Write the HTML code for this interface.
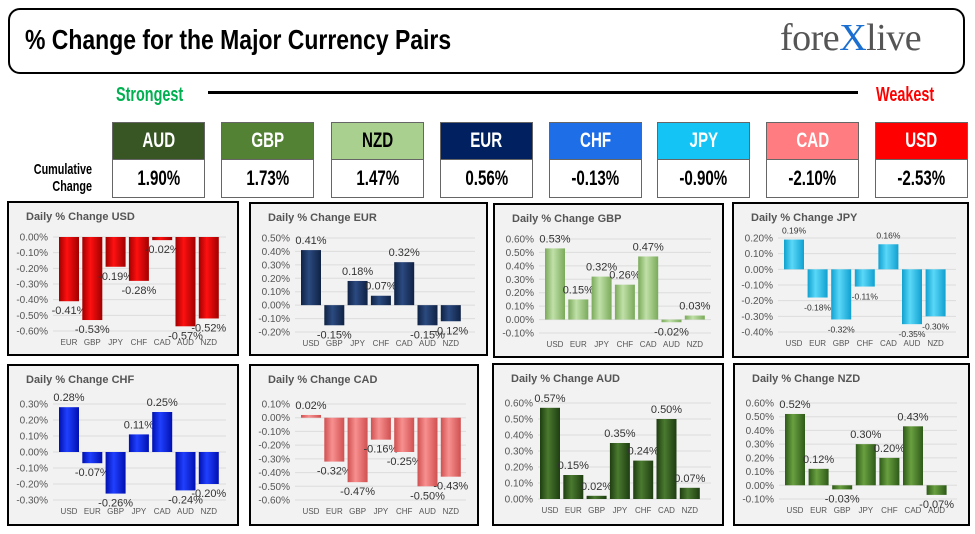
<!DOCTYPE html>
<html><head><meta charset="utf-8"><style>
body{margin:0;width:975px;height:534px;background:#fff;overflow:hidden;font-family:"Liberation Sans",sans-serif;position:relative}
.a{position:absolute}
.cond{font-weight:bold;transform-origin:left top;white-space:nowrap}
.box{position:absolute;width:93px;border:1px solid #666;box-sizing:border-box}
.hd{height:36px;color:#fff;text-align:center;font-weight:bold;font-size:21px;line-height:36px}
.vl{height:37px;background:#fff;text-align:center;font-weight:bold;font-size:21px;line-height:37px;color:#000;border-top:1px solid #666}
.sq{display:inline-block;transform:scaleX(0.72)}
</style></head><body>
<div class="a" style="left:8px;top:8px;width:957px;height:66px;border:2px solid #000;border-radius:12px;box-sizing:border-box"></div>
<div class="a cond" style="left:25px;top:24px;font-size:28px;transform:scaleX(0.82)">% Change for the Major Currency Pairs</div>
<div class="a" style="left:780px;top:16px;font-family:'Liberation Serif',serif;font-size:38px;color:#555;letter-spacing:-0.5px">fore<span style="color:#1a6fd0">X</span>live</div>
<div class="a cond" style="left:116px;top:84px;font-size:20px;color:#00b050;transform:scaleX(0.72)">Strongest</div>
<div class="a" style="left:208px;top:91px;width:650px;height:3px;background:#000"></div>
<div class="a cond" style="left:876px;top:84px;font-size:20px;color:#ff0000;transform:scaleX(0.72)">Weakest</div>
<div class="a cond" style="left:20px;top:161px;font-size:15px;line-height:17px;text-align:right;width:100px;transform:scaleX(0.72)">Cumulative<br>Change</div>
<div id="boxes"></div>
<svg id="s" class="a" style="left:0;top:0" width="975" height="534" font-family="Liberation Sans, sans-serif"></svg>
<script>
var bx=[["AUD","1.90%","#375623",112,"#fff"],["GBP","1.73%","#548235",221,"#fff"],["NZD","1.47%","#a9d08e",331,"#000"],["EUR","0.56%","#002060",440,"#fff"],["CHF","-0.13%","#1e6ee8",549,"#fff"],["JPY","-0.90%","#14c4f4",657,"#fff"],["CAD","-2.10%","#ff7c80",766,"#fff"],["USD","-2.53%","#ff0000",875,"#fff"]];
var h="";bx.forEach(function(b){h+='<div class="box" style="left:'+b[3]+'px;top:122px"><div class="hd" style="background:'+b[2]+';color:'+b[4]+'"><span class="sq">'+b[0]+'</span></div><div class="vl"><span class="sq">'+b[1]+'</span></div></div>';});
document.getElementById("boxes").innerHTML=h;
var P=[
["USD",8,202,230,153,0,-0.6,["EUR","GBP","JPY","CHF","CAD","AUD","NZD"],[-0.41,-0.53,-0.19,-0.28,-0.02,-0.57,-0.52],"#ff1010","#a00000"],
["EUR",250,203,237,152,0.5,-0.2,["USD","GBP","JPY","CHF","CAD","AUD","NZD"],[0.41,-0.15,0.18,0.07,0.32,-0.15,-0.12],"#2b4a80","#0f2244"],
["GBP",494,204,229,153,0.6,-0.1,["USD","EUR","JPY","CHF","CAD","AUD","NZD"],[0.53,0.15,0.32,0.26,0.47,-0.02,0.03],"#c0e0a8","#7aaa5a"],
["JPY",733,203,235,154,0.2,-0.4,["USD","EUR","GBP","CHF","CAD","AUD","NZD"],[0.19,-0.18,-0.32,-0.11,0.16,-0.35,-0.30],"#5ad8f8","#10a0d0"],
["CHF",8,365,230,160,0.3,-0.3,["USD","EUR","GBP","JPY","CAD","AUD","NZD"],[0.28,-0.07,-0.26,0.11,0.25,-0.24,-0.20],"#2040ff","#0010b0"],
["CAD",250,365,228,160,0.1,-0.6,["USD","EUR","GBP","JPY","CHF","AUD","NZD"],[0.02,-0.32,-0.47,-0.16,-0.25,-0.50,-0.43],"#f89090","#d05050"],
["AUD",493,364,230,161,0.6,0,["USD","EUR","GBP","JPY","CHF","CAD","NZD"],[0.57,0.15,0.02,0.35,0.24,0.50,0.07],"#4a7a30","#1e3d10"],
["NZD",734,364,235,161,0.6,-0.1,["USD","EUR","GBP","JPY","CHF","CAD","AUD"],[0.52,0.12,-0.03,0.30,0.20,0.43,-0.07],"#6aa040","#2e5a18"]];
var s="<defs>";P.forEach(function(p,i){s+='<linearGradient id="g'+i+'" x1="0" x2="1"><stop offset="0" stop-color="'+p[10]+'"/><stop offset="0.4" stop-color="'+p[9]+'"/><stop offset="1" stop-color="'+p[10]+'"/></linearGradient>';});s+="</defs>";
P.forEach(function(p,i){var x=p[1],y=p[2],w=p[3],hh=p[4],mx=p[5],mn=p[6];
var row2=y>300;var top=y+(row2?39:35),bot=y+(row2?135:129);
var fs=10;
s+='<rect x="'+x+'" y="'+y+'" width="'+w+'" height="'+hh+'" fill="#f2f2f2" stroke="#000" stroke-width="2"/>';
s+='<text x="'+(x+18)+'" y="'+(y+18)+'" font-size="11" font-weight="bold" fill="#555">Daily % Change '+p[0]+'</text>';
var n=Math.round((mx-mn)*10);function Y(v){return top+(mx-v)/(mx-mn)*(bot-top);}
for(var k=0;k<=n;k++){var v=mx-k*0.1;var yy=Y(v);s+='<line x1="'+(x+45)+'" x2="'+(x+w-12)+'" y1="'+yy+'" y2="'+yy+'" stroke="#dcdcdc"/>';
s+='<text x="'+(x+40)+'" y="'+(yy+3.5)+'" font-size="'+fs+'" fill="#555" text-anchor="end">'+(Math.abs(v)<1e-9?"0.00":v.toFixed(2))+'%</text>';}
var sl=(p[0]=="JPY"||p[0]=="NZD")?23.6:23.3,x0=x+(row2&&p[0]=="AUD"?47:51),z=Y(0);
p[8].forEach(function(v,j){var bx=x0+j*sl,y1=Y(v);var t=Math.min(z,y1),hb=Math.abs(y1-z);
s+='<rect x="'+bx+'" y="'+t+'" width="20" height="'+Math.max(hb,1.5)+'" fill="url(#g'+i+')"/>';
s+='<text x="'+(bx+10)+'" y="'+(bot+14)+'" font-size="8" fill="#555" text-anchor="middle">'+p[7][j]+'</text>';
var lv=(v<0?"-":"")+Math.abs(v).toFixed(2)+"%";var ly=v>=0?y1-6:y1+13;
s+='<text x="'+(bx+10)+'" y="'+ly+'" font-size="'+(p[0]=="JPY"?8.5:11)+'" fill="#333" text-anchor="middle">'+lv+'</text>';});
});
document.getElementById("s").innerHTML=s;
</script>
</body></html>
